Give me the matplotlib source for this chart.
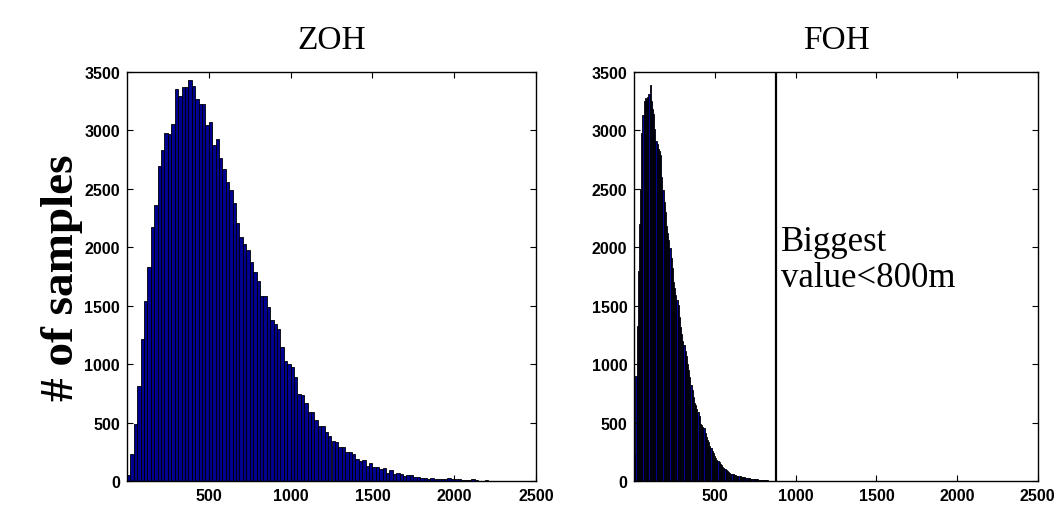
import numpy as np
import matplotlib
matplotlib.use('Agg')
import matplotlib.pyplot as plt

# ZOH histogram: 120 bins over 0..2500
zoh_counts = [50, 233, 490, 817, 1215, 1543, 1830, 2174, 2359, 2692,
              2829, 2977, 2968, 3059, 3355, 3296, 3373, 3373, 3430, 3384,
              3273, 3222, 3228, 3045, 3068, 2872, 2923, 2761, 2672, 2559,
              2490, 2382, 2206, 2092, 2032, 1978, 1873, 1790, 1711, 1585,
              1579, 1485, 1374, 1343, 1297, 1143, 1023, 1001, 972, 887,
              741, 735, 664, 587, 593, 522, 473, 470, 416, 382,
              345, 336, 294, 291, 251, 245, 228, 188, 174, 180,
              131, 154, 123, 117, 103, 111, 72, 94, 64, 66,
              57, 43, 48, 51, 31, 31, 28, 23, 20, 28,
              20, 17, 20, 20, 23, 17, 20, 14, 8, 8,
              8, 14, 8, 4, 3, 5, 2, 3, 2, 1,
              3, 2, 1, 2, 1, 1, 0, 1, 0, 2]
zoh_max = 2500

# FOH histogram: 120 bins over 0..870
foh_counts = [230, 900, 1330, 1800, 2200, 2500, 2980, 3130, 3250, 3280,
              3270, 3290, 3310, 3390, 3250, 3180, 3140, 3010, 2910, 2880,
              2840, 2820, 2790, 2600, 2490, 2390, 2300, 2180, 2120, 2060,
              1990, 1910, 1820, 1700, 1650, 1590, 1550, 1510, 1400, 1320,
              1260, 1200, 1160, 1110, 1070, 1000, 950, 890, 820, 780,
              720, 670, 650, 620, 590, 560, 490, 475, 465, 450,
              410, 380, 355, 330, 300, 280, 260, 240, 215, 200,
              180, 172, 160, 148, 135, 122, 112, 104, 92, 85,
              80, 70, 63, 60, 57, 53, 49, 46, 45, 43,
              42, 36, 33, 31, 30, 28, 27, 25, 23, 21,
              19, 17, 16, 15, 14, 13, 11, 11, 10, 9,
              8, 7, 6, 5, 3, 2, 2, 1, 1, 1]
foh_max = 870
biggest_value = 877

x_ticks = [500, 1000, 1500, 2000, 2500]
y_ticks = [0, 500, 1000, 1500, 2000, 2500, 3000, 3500]

bar_color = '#000090'
serif = ['Liberation Serif', 'DejaVu Serif']
sans = ['Liberation Sans', 'DejaVu Sans']

fig = plt.figure(figsize=(10.62, 5.10), dpi=100)
ax1 = fig.add_axes([127 / 1062, 28 / 510, 409 / 1062, 409 / 510])
ax2 = fig.add_axes([634.3 / 1062, 28 / 510, 403.5 / 1062, 409 / 510])


def draw_hist(ax, counts, vmax, title):
    w = vmax / len(counts)
    edges = np.arange(len(counts)) * w
    ax.bar(edges, counts, width=w, align='edge', color=bar_color,
           edgecolor='black', linewidth=0.6)
    ax.set_xlim(0, 2500)
    ax.set_ylim(0, 3500)
    ax.set_xticks(x_ticks)
    ax.set_yticks(y_ticks)
    ax.tick_params(direction='in', top=True, right=True, length=4, width=0.8,
                   pad=5)
    for lab in ax.get_xticklabels() + ax.get_yticklabels():
        lab.set_fontfamily(sans)
        lab.set_fontweight('bold')
        lab.set_fontsize(11.5)
    for sp in ax.spines.values():
        sp.set_linewidth(1.0)
    ax.set_title(title, fontsize=24, family=serif, pad=17)


draw_hist(ax1, zoh_counts, zoh_max, 'ZOH')
draw_hist(ax2, foh_counts, foh_max, 'FOH')

ax2.axvline(biggest_value, color='black', linewidth=1.6)
ax2.text(910, 2190, 'Biggest\nvalue<800m', fontsize=25, family=serif,
         va='top', ha='left', linespacing=1.1)

fig.text(62 / 1062, 1 - 278 / 510, '# of samples', rotation=90,
         fontsize=34, fontweight='bold', family=serif,
         ha='center', va='center')

plt.savefig('out.png', dpi=100)
